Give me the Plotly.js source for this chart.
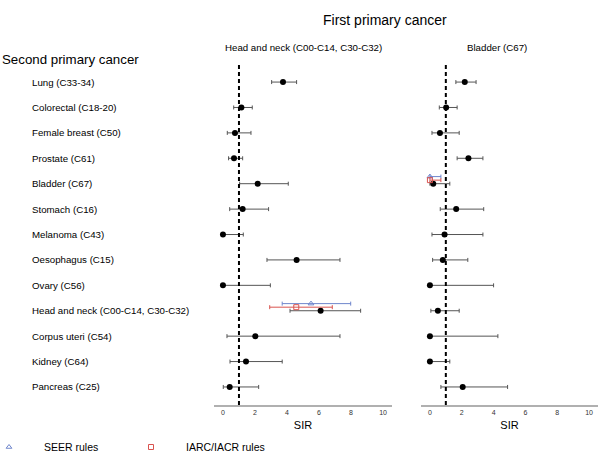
<!DOCTYPE html>
<html>
<head>
<meta charset="utf-8">
<script src="https://cdn.plot.ly/plotly-3.0.1.min.js"></script>
<style>
  html, body { margin: 0; padding: 0; background: #fff; }
  #graph { width: 600px; height: 468px; }
</style>
</head>
<body>
<div id="graph"></div>
<script>
// second primary cancer sites (rows, top to bottom)
var sites = ['Lung (C33-34)', 'Colorectal (C18-20)', 'Female breast (C50)', 'Prostate (C61)',
  'Bladder (C67)', 'Stomach (C16)', 'Melanoma (C43)', 'Oesophagus (C15)', 'Ovary (C56)',
  'Head and neck (C00-C14, C30-C32)', 'Corpus uteri (C54)', 'Kidney (C64)', 'Pancreas (C25)'];

// first primary: head and neck
var hnSir = [3.75, 1.15, 0.75, 0.69, 2.17, 1.23, 0.0, 4.6, 0.0, 6.1, 2.02, 1.44, 0.42];
var hnLow = [3.04, 0.67, 0.27, 0.35, 1.04, 0.42, 0.0, 2.75, 0.0, 4.19, 0.25, 0.44, 0.02];
var hnHigh = [4.6, 1.83, 1.75, 1.23, 4.08, 2.85, 1.27, 7.31, 2.96, 8.6, 7.31, 3.7, 2.23];

// first primary: bladder
var blSir = [2.19, 1.02, 0.63, 2.42, 0.21, 1.65, 0.92, 0.81, 0.0, 0.5, 0.0, 0.0, 2.06];
var blLow = [1.63, 0.59, 0.13, 1.71, 0.0, 0.65, 0.13, 0.17, 0.0, 0.06, 0.0, 0.0, 0.69];
var blHigh = [2.9, 1.71, 1.84, 3.33, 1.25, 3.38, 3.33, 2.38, 4.0, 1.84, 4.27, 1.25, 4.88];

// same-site estimates under alternative rules
var seerHn = {sir: 5.5, low: 3.7, high: 7.98};
var iarcHn = {sir: 4.58, low: 2.92, high: 6.83};
var seerBl = {sir: 0.0, low: 0.0, high: 0.69};
var iarcBl = {sir: 0.0, low: 0.0, high: 0.69};

var rowIdx = sites.map(function (s, i) { return i; });
var hnRow = sites.indexOf('Head and neck (C00-C14, C30-C32)');
var blRow = sites.indexOf('Bladder (C67)');

function diff(a, b) { return a.map(function (v, i) { return v - b[i]; }); }

function mainTrace(sir, low, high, xa) {
  return {
    x: sir, y: rowIdx, xaxis: xa, yaxis: 'y', type: 'scatter', mode: 'markers',
    marker: {color: '#000', size: 6},
    error_x: {type: 'data', symmetric: false, array: diff(high, sir), arrayminus: diff(sir, low),
      color: '#555', thickness: 1, width: 2},
    showlegend: false, hoverinfo: 'x'
  };
}

function ruleTrace(pts, rows, xa, name, sym, col, off, legend, lg) {
  return {
    x: pts.map(function (p) { return p.sir; }),
    y: rows.map(function (r) { return r + off; }),
    xaxis: xa, yaxis: 'y', type: 'scatter', mode: 'markers', name: name, legend: lg,
    marker: {symbol: sym, size: 5, color: col, line: {color: col, width: 1}},
    error_x: {type: 'data', symmetric: false,
      array: pts.map(function (p) { return p.high - p.sir; }),
      arrayminus: pts.map(function (p) { return p.sir - p.low; }),
      color: col, thickness: 1, width: 2},
    showlegend: legend
  };
}

var data = [
  mainTrace(hnSir, hnLow, hnHigh, 'x'),
  mainTrace(blSir, blLow, blHigh, 'x2'),
  ruleTrace([seerHn], [hnRow], 'x', 'SEER rules', 'triangle-up-open', '#6f86cc', -0.28, true, 'legend'),
  ruleTrace([iarcHn], [hnRow], 'x', 'IARC/IACR rules', 'square-open', '#d9534f', -0.14, true, 'legend2'),
  ruleTrace([seerBl], [blRow], 'x2', 'SEER rules', 'triangle-up-open', '#6f86cc', -0.28, false, 'legend'),
  ruleTrace([iarcBl], [blRow], 'x2', 'IARC/IACR rules', 'square-open', '#d9534f', -0.14, false, 'legend2')
];

var fnt = 'Liberation Sans, Arial, sans-serif';
var xcommon = {
  range: [-0.56, 10.56], tickvals: [0, 2, 4, 6, 8, 10], showgrid: false, zeroline: false,
  showline: true, linecolor: '#b0b0b0', linewidth: 1.5, ticks: '',
  tickfont: {size: 7, color: '#333', family: fnt},
  title: {text: 'SIR', font: {size: 11, family: fnt, color: '#000'}, standoff: 6},
  anchor: 'y', fixedrange: true
};

var annotations = sites.map(function (s, i) {
  return {text: s, xref: 'paper', yref: 'y', x: 30 / 600, y: i, xanchor: 'left', yanchor: 'middle',
    showarrow: false, font: {size: 9.7, family: fnt, color: '#000'}};
});
annotations.push(
  {text: 'First primary cancer', xref: 'paper', yref: 'paper', x: 385 / 600, y: 1.152,
    xanchor: 'center', showarrow: false, font: {size: 14, family: fnt, color: '#000'}},
  {text: 'Second primary cancer', xref: 'paper', yref: 'paper', x: 0, y: 1.035, xanchor: 'left',
    showarrow: false, font: {size: 13.3, family: fnt, color: '#000'}},
  {text: 'Head and neck (C00-C14, C30-C32)', xref: 'paper', yref: 'paper', x: 303 / 600, y: 1.064,
    xanchor: 'center', showarrow: false, font: {size: 9.7, family: fnt, color: '#000'}},
  {text: 'Bladder (C67)', xref: 'paper', yref: 'paper', x: 497 / 600, y: 1.064,
    xanchor: 'center', showarrow: false, font: {size: 9.7, family: fnt, color: '#000'}}
);

var legendCommon = {orientation: 'h', xref: 'paper', yref: 'paper', xanchor: 'left',
  y: -42 / 343, yanchor: 'middle', itemwidth: 60,
  font: {size: 10.5, family: fnt, color: '#000'}, bgcolor: 'rgba(0,0,0,0)'};

var layout = {
  width: 600, height: 468,
  margin: {l: 0, r: 0, t: 62, b: 63, autoexpand: false},
  paper_bgcolor: '#fff', plot_bgcolor: '#fff',
  font: {family: fnt},
  xaxis: Object.assign({}, xcommon, {domain: [214 / 600, 392 / 600]}),
  xaxis2: Object.assign({}, xcommon, {domain: [421 / 600, 598 / 600]}),
  yaxis: {range: [12.71, -0.79], showticklabels: false, showgrid: false, zeroline: false,
    showline: false, ticks: '', fixedrange: true},
  shapes: [
    {type: 'line', xref: 'x', yref: 'paper', x0: 1, x1: 1, y0: 0, y1: 1,
      line: {color: '#000', width: 2, dash: '4px,3px'}},
    {type: 'line', xref: 'x2', yref: 'paper', x0: 1, x1: 1, y0: 0, y1: 1,
      line: {color: '#000', width: 2, dash: '4px,3px'}}
  ],
  annotations: annotations,
  showlegend: true,
  legend: Object.assign({}, legendCommon, {x: -26 / 600}),
  legend2: Object.assign({}, legendCommon, {x: 116 / 600})
};

Plotly.newPlot('graph', data, layout, {displayModeBar: false, staticPlot: true});
</script>
</body>
</html>
